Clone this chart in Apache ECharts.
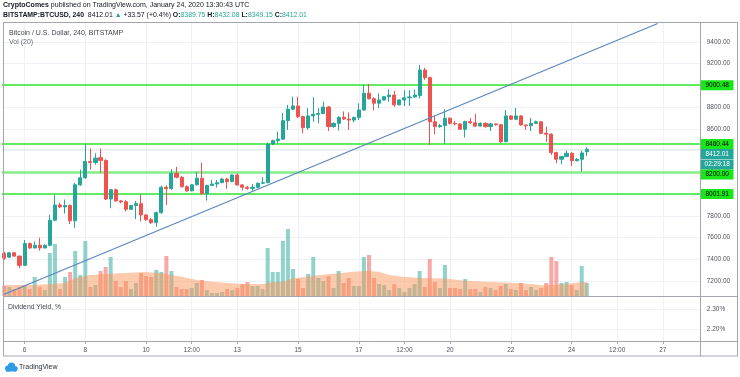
<!DOCTYPE html>
<html><head><meta charset="utf-8">
<script src="https://cdn.jsdelivr.net/npm/echarts@6/dist/echarts.min.js"></script>
<style>html,body{margin:0;padding:0;background:#fff}#c{width:740px;height:377px}</style>
</head><body><div id="c"></div>
<script>
const FONT = '"Liberation Sans", Arial, sans-serif';

// 4-hour slots starting Jan 5 2020 08:00 UTC (axis keys only)
const startTime = Date.UTC(2020, 0, 5, 8);
const slotCount = 138;
const categories = [];
for (let i = 0; i < slotCount; i++) {
  categories.push(new Date(startTime + i * 4 * 3600e3).toISOString().slice(0, 13) + ':00');
}

const openP = [7455,7420,7460,7430,7345,7545,7505,7530,7505,7530,7760,7900,7882,7895,7755,8085,8150,8300,8290,8335,8310,7955,8040,7937,7930,7860,7895,7912,7808,
7765,7738,7829,8063,8050,8190,8155,8068,8030,8085,8145,8005,8080,8093,8105,8138,8114,8176,8084,8063,8052,8063,8100,8105,8460,8491,8505,8675,8780,
8810,8712,8610,8718,8733,8740,8800,8620,8650,8706,8690,8680,8705,8773,8927,8876,8835,8865,8895,8910,8820,8865,8885,8893,8905,9140,9070,8665,8620,8630,
8697,8650,8645,8596,8666,8655,8625,8650,8620,8645,8638,8482,8718,8688,8718,8635,8628,8650,8665,8559,8550,8381,8320,8345,8375,8307,8320,8389.75];
const highP = [7470,7465,7470,7435,7578,7555,7565,7600,7540,7810,7995,7920,7950,7905,8105,8225,8465,8420,8375,8420,8320,8045,8050,7945,7945,7900,7936,7992,7815,
7780,7840,8080,8080,8230,8250,8165,8080,8090,8205,8290,8085,8130,8130,8150,8150,8180,8190,8090,8075,8095,8105,8155,8475,8500,8575,8745,8820,8895,
8895,8720,8790,8890,8790,8850,8810,8660,8715,8760,8750,8712,8835,9003,9012,8890,8925,8900,8960,8950,8870,8955,8955,8960,9187,9160,9080,8720,8645,8780,
8705,8670,8650,8675,8700,8737,8660,8660,8655,8650,8645,8773,8725,8791,8725,8640,8700,8675,8670,8620,8560,8390,8350,8400,8385,8330,8400,8432.08];
const lowP = [7395,7412,7425,7320,7340,7495,7500,7480,7500,7520,7750,7870,7820,7725,7690,8075,8140,8225,8270,8195,7945,7870,7930,7915,7840,7855,7770,7750,7755,
7725,7700,7820,7900,8040,8145,8060,8020,8025,8080,7995,7940,8075,8060,8100,8050,8110,8080,8035,8040,8030,8055,8095,8100,8450,8467,8500,8590,8770,
8700,8559,8590,8665,8650,8735,8580,8610,8585,8680,8590,8660,8680,8765,8870,8770,8790,8860,8850,8800,8815,8810,8810,8885,8880,9050,8452,8550,8610,8460,
8640,8630,8590,8520,8645,8615,8620,8610,8580,8630,8470,8475,8680,8680,8630,8590,8580,8645,8550,8480,8360,8283,8275,8340,8258,8300,8206,8349.15];
const closeP = [7410,7460,7430,7345,7545,7505,7530,7505,7530,7760,7900,7882,7895,7755,8085,8150,8300,8290,8330,8310,7955,8040,7937,7928,7860,7895,7912,7808,7765,
7738,7829,8063,8050,8190,8155,8068,8030,8085,8145,8005,8080,8093,8105,8138,8114,8176,8084,8063,8052,8063,8100,8105,8460,8491,8505,8675,8780,8810,
8712,8610,8718,8733,8740,8800,8620,8650,8706,8690,8680,8705,8773,8927,8876,8835,8865,8895,8910,8820,8865,8885,8893,8910,9140,9070,8665,8620,8630,8697,
8650,8645,8596,8666,8655,8625,8650,8620,8645,8638,8482,8718,8688,8718,8635,8628,8650,8665,8559,8550,8381,8320,8345,8375,8307,8320,8378,8412.01];
const volume = [1000,900,700,900,1100,700,1900,900,600,4300,5200,700,1900,2400,4500,2100,5500,900,1100,2500,2900,3900,1500,900,1500,700,1300,2300,2000,
1900,2600,2400,4000,2500,900,700,700,800,1300,1600,600,300,300,400,700,600,800,1200,1400,1000,1000,700,4800,2400,2400,5500,6700,2700,
1700,800,2200,3900,1800,1500,2000,800,2500,1300,1800,1000,1000,3900,4100,1800,1200,1100,600,1200,800,400,800,1200,2500,900,3700,1400,800,3100,
800,800,700,1700,700,700,400,900,800,600,1000,1200,700,600,1300,600,900,600,800,1300,3900,3500,1300,1400,1100,600,3000,1300];
const volMAIdx = [0,6,12,14,17,20,24,28,31,35,38,41,45,48,51,53,55,57,58,61,64,68,71,74,76,79,84,87,91,95,100,104,106,109,112,115];
const volMA = [1100,1100,1300,1800,2100,2200,2300,2400,2270,1930,1600,1430,1270,1170,1200,1400,1430,1770,1830,2030,2170,2370,2500,2430,2100,1900,1770,1750,1530,1430,1330,1200,1070,1100,1270,1430];

const tickIdx = [4,16,28,37,46,58,70,79,88,100,112,121,130];
const tickText = ['6','8','10','12:00','13','15','17','12:00','20','22','24','12:00','27'];
const priceLevels = [9000.48, 8460.44, 8200.00, 8001.91];
const lastPrice = 8412.01;
const countdown = '02:29:18';
const trendIdx = [0, 129];
const trendPrice = [7079, 9568];
const dividendTicks = [2.2, 2.3];

const UP = '#26a69a', DOWN = '#ef5350';
const STEP = 5.065;
const GL = 4.3 - STEP / 2, GW = STEP * slotCount;

const candleData = openP.map((o, i) => [o, closeP[i], lowP[i], highP[i]]);
const volData = volume.map((v, i) => ({
  value: v,
  itemStyle: { color: closeP[i] >= openP[i] ? 'rgba(38,166,154,0.5)' : 'rgba(239,83,80,0.5)' }
}));
const maData = volMAIdx.map((ix, k) => [ix, volMA[k]]);

const chart = echarts.init(document.getElementById('c'), null, { renderer: 'canvas' });
const hidX = (g) => ({ type: 'category', gridIndex: g, data: categories, boundaryGap: true, show: false });

chart.setOption({
  animation: false,
  textStyle: { fontFamily: FONT },
  grid: [
    { left: 4.3, width: STEP * (slotCount - 1), top: 23, height: 318 },
    { left: GL, width: GW, top: 20, height: 282.9 },
    { left: GL, width: GW, top: 23, height: 273 },
    { left: GL, width: GW, top: 289, height: 60 }
  ],
  xAxis: [
    {
      type: 'category', gridIndex: 0, data: categories, boundaryGap: false,
      axisLine: { show: false },
      axisTick: { show: true, length: 3, interval: (i) => tickIdx.includes(i), lineStyle: { color: '#a3a6ae' } },
      axisLabel: { interval: (i) => tickIdx.includes(i), formatter: (v, i) => tickText[tickIdx.indexOf(i)], fontSize: 6.5, color: '#50535e', margin: 5.5, fontFamily: FONT },
      splitLine: { show: true, interval: (i) => tickIdx.includes(i), lineStyle: { color: '#eef2f6', width: 1 } }
    },
    hidX(1), hidX(2), hidX(3)
  ],
  yAxis: [
    { type: 'value', gridIndex: 0, show: false },
    {
      type: 'value', gridIndex: 1, position: 'right', min: 7000, max: 9600, interval: 200, scale: true,
      axisLine: { show: false }, axisTick: { show: false },
      axisLabel: { formatter: (v) => (v === 7000 || v === 9600) ? '' : v.toFixed(2), fontSize: 6.5, color: '#50535e', margin: 6, fontFamily: FONT },
      splitLine: { show: true, showMinLine: false, showMaxLine: false, lineStyle: { color: '#eef2f6' } }
    },
    { type: 'value', gridIndex: 2, show: false, min: 0, max: 27300 },
    {
      type: 'value', gridIndex: 3, position: 'right', min: 2.1, max: 2.4, interval: 0.1,
      axisLine: { show: false }, axisTick: { show: false },
      axisLabel: { formatter: (v) => { const s = v.toFixed(2); return dividendTicks.some(t => t.toFixed(2) === s) ? s + '%' : ''; }, fontSize: 6.5, color: '#50535e', margin: 6, fontFamily: FONT },
      splitLine: { show: true, showMinLine: false, showMaxLine: false, lineStyle: { color: '#eef2f6' } }
    }
  ],
  series: [
    {
      type: 'bar', xAxisIndex: 2, yAxisIndex: 2, data: volData, barWidth: 4, z: 1, silent: true
    },
    {
      type: 'line', xAxisIndex: 2, yAxisIndex: 2, data: maData, symbol: 'none', z: 2, silent: true,
      lineStyle: { width: 0 }, areaStyle: { color: 'rgba(249,150,90,0.5)', opacity: 1 }
    },
    {
      type: 'candlestick', xAxisIndex: 1, yAxisIndex: 1, data: candleData, barWidth: 3.6, z: 5,
      itemStyle: { color: UP, color0: DOWN, borderColor: UP, borderColor0: DOWN, borderWidth: 1 },
      markLine: {
        silent: true, symbol: 'none', label: { show: false }, animation: false,
        data: [
          { yAxis: priceLevels[0], lineStyle: { color: '#2ee62e', width: 1.5, type: 'solid' } },
          { yAxis: priceLevels[1], lineStyle: { color: '#2ee62e', width: 1.5, type: 'solid' } },
          { yAxis: priceLevels[2], lineStyle: { color: '#86ec86', width: 2.5, type: 'solid' } },
          { yAxis: priceLevels[3], lineStyle: { color: '#2ee62e', width: 1.5, type: 'solid' } },
          { yAxis: lastPrice, lineStyle: { color: 'rgba(38,166,154,0.3)', width: 1, type: 'dotted' } }
        ]
      }
    },
    {
      type: 'line', xAxisIndex: 1, yAxisIndex: 1, data: trendIdx.map((ix, k) => [ix, trendPrice[k]]),
      symbol: 'none', z: 6, silent: true, lineStyle: { color: '#5a86c0', width: 1.2 }
    }
  ]
});

// Frame, texts and right-axis price boxes
const BORDER = '#a3a6ae';
const ln = (x1, y1, x2, y2) => ({ type: 'line', shape: { x1, y1, x2, y2 }, style: { stroke: BORDER, lineWidth: 1 }, silent: true, z: 100 });
const g = [
  ln(3, 22.5, 738, 22.5), ln(3.5, 22.5, 3.5, 356), ln(737.5, 22.5, 737.5, 356), ln(700.5, 22.5, 700.5, 356),
  ln(3, 296.5, 738, 296.5), ln(3, 341.5, 738, 341.5), ln(3, 356, 738, 356),
  { type: 'text', left: 3, top: 2, z: 100, style: { text: '{b|CryptoComes} published on TradingView.com, January 24, 2020 13:30:43 UTC', font: '7px ' + FONT, fill: '#131722', rich: { b: { fontWeight: 'bold', fontSize: 7, fontFamily: FONT, fill: '#131722' } } } },
  { type: 'text', left: 3, top: 12, z: 100, style: {
      text: '{b|BITSTAMP:BTCUSD, 240}  8412.01 {g|▲} +33.57 (+0.4%) {b|O:}{g|8389.75} {b|H:}{g|8432.08} {b|L:}{g|8349.15} {b|C:}{g|8412.01}',
      font: '6.9px ' + FONT, fill: '#131722',
      rich: { b: { fontWeight: 'bold', fontSize: 6.9, fontFamily: FONT, fill: '#131722' }, g: { fontSize: 6.9, fontFamily: FONT, fill: '#26a69a' } } } },
  { type: 'text', left: 9, top: 29.5, z: 100, style: { text: 'Bitcoin / U.S. Dollar, 240, BITSTAMP', font: '7px ' + FONT, fill: '#434651' } },
  { type: 'text', left: 9, top: 39, z: 100, style: { text: 'Vol (20)', font: '7px ' + FONT, fill: '#6a6d78' } },
  { type: 'text', left: 8, top: 303.5, z: 100, style: { text: 'Dividend Yield, %', font: '6.8px ' + FONT, fill: '#434651' } },
  // TradingView logo
  { type: 'circle', shape: { cx: 8, cy: 368.5, r: 3 }, style: { fill: '#2e9be6' }, z: 100 },
  { type: 'circle', shape: { cx: 11.5, cy: 366, r: 3.6 }, style: { fill: '#2e9be6' }, z: 100 },
  { type: 'circle', shape: { cx: 15, cy: 368.8, r: 2.7 }, style: { fill: '#2e9be6' }, z: 100 },
  { type: 'rect', shape: { x: 6, y: 368.5, width: 10, height: 3 }, style: { fill: '#2e9be6' }, z: 100 },
  { type: 'text', left: 19, top: 363.5, z: 100, style: { text: 'TradingView', font: '7px ' + FONT, fill: '#2a2e39' } }
];

const boxes = priceLevels.map(v => ({ v, bg: '#19e619', fg: '#000', text: v.toFixed(2) }));
boxes.push({ v: lastPrice, bg: '#26a69a', fg: '#fff', text: lastPrice.toFixed(2), extra: countdown });
boxes.sort((a, b) => b.v - a.v);
let prevBottom = -1e9;
const BH = 10;
boxes.forEach(bx => {
  const y = chart.convertToPixel({ yAxisIndex: 1 }, bx.v);
  let top = Math.max(y - BH / 2, prevBottom);
  g.push({ type: 'rect', shape: { x: 701, y: top, width: 32.5, height: BH }, style: { fill: bx.bg }, z: 101 });
  g.push({ type: 'text', x: 717.2, y: top + BH / 2, z: 102, style: { text: bx.text, font: '6.5px ' + FONT, fill: bx.fg, align: 'center', verticalAlign: 'middle' } });
  prevBottom = top + BH;
  if (bx.extra) {
    g.push({ type: 'rect', shape: { x: 701, y: prevBottom + 0.5, width: 32.5, height: BH }, style: { fill: bx.bg }, z: 101 });
    g.push({ type: 'text', x: 717.2, y: prevBottom + 0.5 + BH / 2, z: 102, style: { text: bx.extra, font: '6.5px ' + FONT, fill: bx.fg, align: 'center', verticalAlign: 'middle' } });
    prevBottom += BH + 0.5;
  }
});
chart.setOption({ graphic: g });
</script>
</body></html>
